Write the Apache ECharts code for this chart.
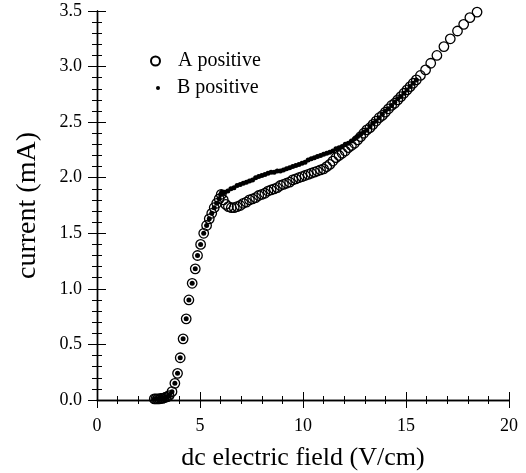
<!DOCTYPE html>
<head>
<meta charset="utf-8">
<title>ECharts</title>
</head>
<body style="margin:0">
<div id="main" style="width: 526px; height: 473px"></div>
<script src="https://cdn.jsdelivr.net/npm/echarts@6/dist/echarts.min.js"></script>
<script>
// A positive (open circles): field in V/cm, current in mA
var aField = [2.78, 2.86, 2.94, 3.02, 3.10, 3.18, 3.26, 3.34, 3.42, 3.50,
    3.64, 3.78, 3.91, 4.04, 4.18, 4.33, 4.46, 4.62, 4.77, 4.88,
    5.03, 5.18, 5.32, 5.45, 5.57, 5.69, 5.81, 5.93, 6.03,
    6.13, 6.25, 6.38, 6.52, 6.66, 6.80, 6.95, 7.10, 7.25, 7.40,
    7.55, 7.70, 7.85, 8.00, 8.15, 8.30, 8.45, 8.60, 8.75, 8.90,
    9.05, 9.20, 9.35, 9.50, 9.65, 9.80, 9.95, 10.10, 10.25, 10.40,
    10.55, 10.70, 10.85, 11.00, 11.15, 11.30, 11.45, 11.60, 11.75, 11.90,
    12.05, 12.20, 12.35, 12.50, 12.65, 12.80, 12.95, 13.10, 13.25, 13.40,
    13.55, 13.70, 13.85, 14.00, 14.15, 14.30, 14.45, 14.60, 14.75, 14.90,
    15.05, 15.20, 15.35, 15.50, 15.70, 15.95, 16.20, 16.50, 16.84, 17.15,
    17.50, 17.80, 18.10, 18.45];
var aCurrent = [0.01, 0.01, 0.01, 0.01, 0.015, 0.015, 0.02, 0.025, 0.03, 0.04,
    0.075, 0.15, 0.24, 0.38, 0.55, 0.73, 0.90, 1.05, 1.18, 1.30,
    1.40, 1.50, 1.57, 1.63, 1.68, 1.73, 1.77, 1.81, 1.85,
    1.80, 1.76, 1.74, 1.73, 1.73, 1.74, 1.75, 1.77, 1.78, 1.80,
    1.81, 1.82, 1.84, 1.85, 1.86, 1.88, 1.89, 1.90, 1.91, 1.93,
    1.94, 1.95, 1.96, 1.98, 1.99, 2.00, 2.01, 2.02, 2.03, 2.04,
    2.05, 2.06, 2.07, 2.08, 2.10, 2.12, 2.15, 2.18, 2.20, 2.22,
    2.24, 2.27, 2.29, 2.31, 2.34, 2.37, 2.40, 2.43, 2.45, 2.48,
    2.51, 2.54, 2.56, 2.59, 2.62, 2.65, 2.67, 2.70, 2.73, 2.76,
    2.79, 2.82, 2.85, 2.88, 2.92, 2.97, 3.03, 3.10, 3.18, 3.25,
    3.32, 3.38, 3.44, 3.49];

// B positive (small dots)
var bField = [2.78, 2.86, 2.94, 3.02, 3.10, 3.18, 3.26, 3.34, 3.42, 3.50,
    3.64, 3.78, 3.91, 4.04, 4.18, 4.33, 4.46, 4.62, 4.77, 4.88,
    5.03, 5.18, 5.32, 5.45, 5.57, 5.69, 5.81, 5.93, 6.00, 6.05, 6.10,
    6.20, 6.35, 6.50, 6.65, 6.80, 6.95, 7.10, 7.25, 7.40, 7.55,
    7.70, 7.85, 8.00, 8.15, 8.30, 8.45, 8.60, 8.75, 8.90, 9.05,
    9.20, 9.35, 9.50, 9.65, 9.80, 9.95, 10.10, 10.25, 10.40, 10.55,
    10.70, 10.85, 11.00, 11.15, 11.30, 11.45, 11.60, 11.75, 11.90, 12.05,
    12.20, 12.35, 12.50, 12.65, 12.80, 12.95, 13.10, 13.25, 13.40, 13.55,
    13.70, 13.85, 14.00, 14.15, 14.30, 14.45, 14.60, 14.75, 14.90, 15.05,
    15.20, 15.35, 15.50];
var bCurrent = [0.01, 0.01, 0.01, 0.01, 0.015, 0.015, 0.02, 0.025, 0.03, 0.04,
    0.075, 0.15, 0.24, 0.38, 0.55, 0.73, 0.90, 1.05, 1.18, 1.30,
    1.40, 1.50, 1.57, 1.63, 1.68, 1.73, 1.77, 1.81, 1.85, 1.87, 1.86,
    1.87, 1.88, 1.90, 1.91, 1.93, 1.94, 1.95, 1.96, 1.97, 1.98,
    2.00, 2.01, 2.02, 2.03, 2.04, 2.05, 2.05, 2.06, 2.06, 2.07,
    2.08, 2.09, 2.10, 2.11, 2.12, 2.13, 2.14, 2.16, 2.17, 2.18,
    2.19, 2.20, 2.21, 2.22, 2.23, 2.24, 2.26, 2.27, 2.28, 2.30,
    2.31, 2.33, 2.35, 2.37, 2.39, 2.41, 2.43, 2.46, 2.49, 2.51,
    2.54, 2.57, 2.60, 2.62, 2.65, 2.68, 2.71, 2.73, 2.76, 2.79,
    2.82, 2.85, 2.88];

var xTicks = [0, 5, 10, 15, 20];
var yTicks = ['0.0', '0.5', '1.0', '1.5', '2.0', '2.5', '3.0', '3.5'];

function pairs(xs, ys) {
    var out = [];
    for (var i = 0; i < xs.length; i++) out.push([xs[i], ys[i]]);
    return out;
}

var serif = 'Liberation Serif';
var myChart = echarts.init(document.getElementById('main'));

// ticks point into the plot: negative length
function xAx(pos, labels) {
    return {
        type: 'value', position: pos, min: 0, max: 20, interval: 5,
        name: labels ? 'dc electric field (V/cm)' : '',
        nameLocation: 'middle', nameGap: 45,
        nameTextStyle: { fontFamily: serif, fontSize: 26, color: '#000' },
        axisLine: { lineStyle: { color: '#000', width: 1.4 } },
        axisTick: { inside: false, length: -8, lineStyle: { color: '#000', width: 1 } },
        minorTick: { show: true, splitNumber: 5, length: -4, lineStyle: { color: '#000', width: 1 } },
        axisLabel: {
            show: labels, margin: 17, fontFamily: serif, fontSize: 18, color: '#000',
            formatter: function (v) { return String(xTicks[Math.round(v / 5)]); }
        },
        splitLine: { show: false }
    };
}
function yAx(pos, labels) {
    return {
        type: 'value', position: pos, min: 0, max: 3.5, interval: 0.5,
        name: labels ? 'current (mA)' : '',
        nameLocation: 'middle', nameGap: 55,
        nameTextStyle: { fontFamily: serif, fontSize: 28, color: '#000' },
        axisLine: { lineStyle: { color: '#000', width: 1.4 } },
        axisTick: { inside: false, length: -9, lineStyle: { color: '#000', width: 1 } },
        minorTick: { show: true, splitNumber: 5, length: -5, lineStyle: { color: '#000', width: 1 } },
        axisLabel: {
            show: labels, margin: 15, fontFamily: serif, fontSize: 18, color: '#000',
            formatter: function (v) { return yTicks[Math.round(v / 0.5)]; }
        },
        splitLine: { show: false }
    };
}

myChart.setOption({
    animation: false,
    backgroundColor: '#fff',
    grid: { left: 97, right: 17, top: 11, bottom: 73, outerBoundsMode: 'none' },
    xAxis: [xAx('bottom', true), xAx('top', false)],
    yAxis: [yAx('left', true), yAx('right', false)],
    legend: [{
        data: ['A positive'], left: 145, top: 46, orient: 'vertical',
        itemWidth: 9, itemHeight: 9,
        textStyle: { fontFamily: serif, fontSize: 20, color: '#000', padding: [0, 0, 0, 13] }
    }, {
        data: ['B positive'], left: 151, top: 73, orient: 'vertical',
        itemWidth: 4, itemHeight: 4,
        textStyle: { fontFamily: serif, fontSize: 20, color: '#000', padding: [0, 0, 0, 12] }
    }],
    series: [{
        name: 'A positive',
        type: 'scatter',
        symbol: 'circle',
        symbolSize: 9.5,
        itemStyle: { color: 'rgba(255,255,255,0)', borderColor: '#000', borderWidth: 1.3, opacity: 1 },
        data: pairs(aField, aCurrent)
    }, {
        name: 'B positive',
        type: 'scatter',
        symbol: 'circle',
        symbolSize: 5,
        itemStyle: { color: '#000', opacity: 1 },
        data: pairs(bField, bCurrent)
    }]
});
</script>
</body>
</html>
